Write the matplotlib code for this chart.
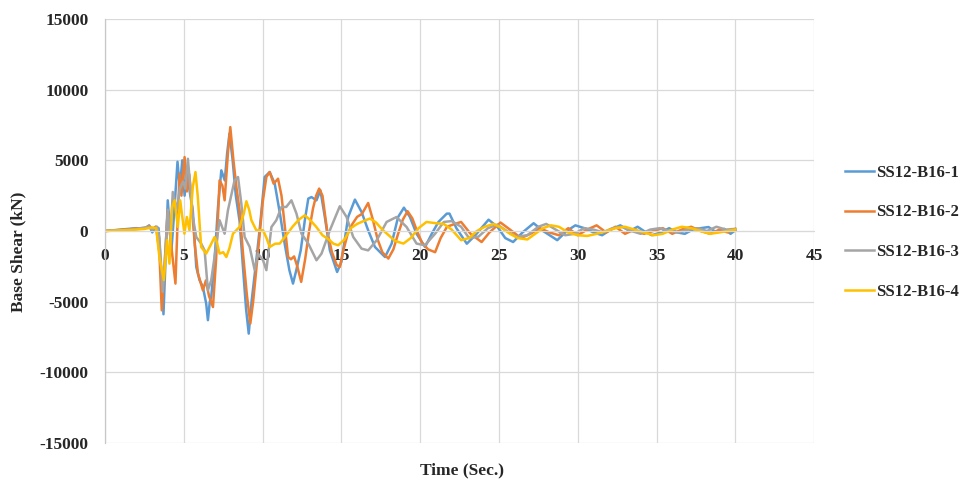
import matplotlib
matplotlib.use("Agg")
import matplotlib.pyplot as plt

# ---------------- data ----------------
t1 = [0, 0.5, 1.0, 1.5, 2.0, 2.5, 2.8, 3.0, 3.2, 3.4, 3.55, 3.71, 3.85, 3.98, 4.1, 4.2, 4.4, 4.6, 4.75, 4.9,
      5.05, 5.2, 5.4, 5.57, 5.79, 6.0, 6.21, 6.42, 6.53, 6.65, 6.74, 6.95, 7.17, 7.38, 7.6, 7.75, 7.9, 8.1,
      8.3, 8.54, 8.75, 8.95, 9.12, 9.3, 9.6, 9.85, 10.13, 10.45, 10.77, 11.1, 11.4, 11.7, 11.93, 12.14, 12.42,
      12.68, 12.9, 13.1, 13.42, 13.67, 13.95, 14.27, 14.73, 15.0, 15.43, 15.86, 16.28, 16.7, 17.13, 17.55,
      17.77, 18.19, 18.6, 18.97, 19.35, 19.77, 20.31, 20.74, 21.16, 21.69, 21.86, 22.3, 22.96, 23.5, 24.34,
      24.9, 25.4, 25.9, 26.5, 27.2, 27.8, 28.7, 29.3, 29.85, 30.5, 31.0, 31.55, 32.1, 32.7, 33.3, 33.8, 34.2,
      34.7, 35.3, 35.8, 36.3, 36.8, 37.3, 37.8, 38.3, 38.8, 39.3, 39.7, 40.0]
v1 = [0, 50, 100, 150, 200, 150, 400, -100, 300, 200, -2600, -5890, -1800, 2170, 500, -1600, 1500, 4900, 3000, 5000,
      2500, 4200, 2600, 1460, -2540, -3480, -3950, -5130, -6310, -5000, -4660, -2070, 1700, 4290, 3580, 5500, 6900, 5000,
      2500, 700, -2500, -5500, -7260, -5000, -2080, 500, 3820, 4170, 3350, 1230, -890, -2770, -3720, -2770, -1370,
      750, 2290, 2400, 2170, 2880, 990, -1370, -2900, -2190, 990, 2220, 1350, 50, -1130, -1600,
      -1840, -890, 990, 1650, 990, -190, -1130, -190, 640, 1230, 1230, 200, -900, -300, 800,
      300, -500, -780, -100, 550, 0, -650, 0, 400, 170, -100, -300, 100, 400, 0, 300, 0,
      -300, -100, 200, -100, -200, 100, 200, 280, -100, 150, -200, 50]

t2 = [0, 0.5, 1.0, 1.5, 2.0, 2.5, 2.8, 3.0, 3.24, 3.45, 3.6, 3.75, 3.98, 4.15, 4.3, 4.47, 4.6, 4.73, 4.85, 5.05,
      5.2, 5.35, 5.5, 5.7, 5.9, 6.21, 6.4, 6.6, 6.85, 7.05, 7.27, 7.45, 7.59, 7.8, 7.95, 8.15, 8.35, 8.54, 8.75,
      9.0, 9.22, 9.4, 9.8, 10.0, 10.24, 10.45, 10.7, 10.98, 11.2, 11.62, 11.8, 12.0, 12.2, 12.45, 12.7, 12.95,
      13.2, 13.4, 13.59, 13.8, 14.1, 14.4, 14.7, 14.9, 15.1, 15.4, 15.7, 16.0, 16.3, 16.7, 17.0, 17.3, 17.6,
      17.98, 18.3, 18.6, 18.9, 19.2, 19.5, 19.8, 20.1, 20.5, 20.95, 21.3, 21.7, 22.2, 22.6, 23.2, 23.9, 24.4,
      25.1, 25.7, 26.4, 27.0, 27.6, 28.2, 28.8, 29.4, 30.0, 30.6, 31.2, 31.8, 32.4, 33.0, 33.6, 34.2, 34.8,
      35.4, 36.0, 36.6, 37.2, 37.8, 38.4, 39.0, 39.5, 40.0]
v2 = [0, 30, 80, 120, 180, 200, 350, 150, 300, -1500, -5610, -3000, 1460, -500, -2000, -3720, 500, 4060, 2500, 5230,
      2800, 4000, 2000, -1000, -3000, -4200, -3500, -4600, -5380, -2000, 3580, 3200, 2170, 5500, 7350, 5000, 3000, 1460, -1500,
      -4500, -6550, -5000, -430, 2000, 3820, 4170, 3350, 3700, 2500, -1840, -2000, -1800, -2500, -3600, -2000, 0,
      1600, 2500, 3000, 2500, 0, -1500, -2400, -2540, -1500, -200, 500, 1000, 1200, 1980, 800, -600, -1500,
      -1950, -1300, -200, 800, 1400, 900, 0, -800, -1300, -1500, -500, 300, 500, 640, -200, -780, -100,
      600, 100, -500, -200, 200, -100, -300, 200, -300, 100, 400, -100, 300, -200, 100, -200, 0,
      200, -200, 100, 300, 0, -200, 100, -100, 150]

t3 = [0, 0.5, 1.0, 1.5, 2.0, 2.5, 2.8, 3.0, 3.3, 3.45, 3.66, 3.8, 3.98, 4.15, 4.3, 4.45, 4.55, 4.75, 4.95, 5.1,
      5.26, 5.57, 5.79, 6.1, 6.32, 6.53, 6.74, 6.95, 7.27, 7.59, 7.8, 8.22, 8.44, 8.65, 8.86, 9.18, 9.5, 9.71,
      10.03, 10.24, 10.56, 10.87, 11.2, 11.5, 11.83, 12.15, 12.47, 12.9, 13.42, 13.74, 14.27, 14.9, 15.33,
      15.75, 16.28, 16.7, 17.24, 17.87, 18.5, 19.14, 19.77, 20.3, 20.95, 21.5, 22.0, 22.6, 23.1, 23.7, 24.3,
      24.9, 25.5, 26.1, 26.8, 27.5, 28.0, 28.6, 29.2, 29.8, 30.4, 31.0, 31.6, 32.2, 32.8, 33.4, 34.0, 34.6,
      35.2, 35.8, 36.4, 37.0, 37.6, 38.2, 38.8, 39.4, 40.0]
v3 = [0, 50, 50, 100, 150, 250, 300, 100, 300, -500, -4310, -2000, 1500, -500, 2760, 2000, 1460, 3000, 3500, 3000,
      5110, 990, -420, -890, -1370, -4190, -3480, -1840, 760, -190, 1460, 3580, 3820, 1940, -420, -1130, -2770, -1600,
      -2080, -2770, 280, 760, 1700, 1700, 2170, 1230, -190, -890, -2070, -1600, 50, 1750, 990,
      -420, -1250, -1370, -660, 640, 990, 280, -890, -1010, -190, 640, 700, 300, -500, -400, 200,
      450, 0, -400, -300, 300, 500, 100, -300, -200, 200, 100, -100, 200, 300, 0, -200, 100,
      200, 0, -100, 100, 200, 0, 300, 100, 150]

t4 = [0, 0.5, 1.0, 1.5, 2.0, 2.5, 3.0, 3.25, 3.45, 3.73, 3.94, 4.09, 4.26, 4.41, 4.62, 4.77, 5.04, 5.19, 5.36,
      5.57, 5.74, 5.89, 6.1, 6.42, 6.7, 6.95, 7.1, 7.27, 7.5, 7.7, 7.9, 8.12, 8.54, 8.8, 8.97, 9.15, 9.29, 9.6,
      10.03, 10.25, 10.45, 10.8, 11.09, 11.5, 11.9, 12.3, 12.68, 13.0, 13.4, 13.8, 14.2, 14.5, 14.8, 15.2, 15.6,
      16.0, 16.4, 16.81, 17.2, 17.6, 18.0, 18.4, 18.94, 19.4, 19.9, 20.4, 21.0, 21.5, 22.0, 22.6, 23.1, 23.6,
      24.1, 24.65, 25.2, 25.7, 26.2, 26.8, 27.3, 27.8, 28.3, 28.8, 29.4, 30.0, 30.6, 31.2, 31.8, 32.4, 33.0,
      33.6, 34.2, 34.8, 35.4, 36.0, 36.6, 37.2, 37.8, 38.4, 39.0, 39.5, 40.0]
v4 = [0, 20, 50, 60, 100, 150, 250, 200, -1840, -3480, -650, -2310, 1700, 2170, 290, 2170, -190, 990, 50,
      3110, 4170, 2400, -1130, -1600, -1000, -430, -800, -1600, -1500, -1840, -1200, -190, 290, 1200, 2100, 1500, 760, 50,
      50, -500, -1130, -900, -890, -300, 300, 800, 1110, 800, 300, -300, -600, -900, -1010, -600, 200,
      500, 700, 880, 600, 100, -300, -700, -890, -500, 200, 640, 550, 500, 100, -650, -500, 0,
      300, 500, 200, -200, -500, -600, -200, 200, 400, 300, -100, -300, -350, -200, 0, 200, 300,
      100, -100, -300, -200, 100, 300, 200, 0, -200, -100, 0, 100]

names = ["SS12-B16-1", "SS12-B16-2", "SS12-B16-3", "SS12-B16-4"]
x_ticks = [0, 5, 10, 15, 20, 25, 30, 35, 40, 45]
y_ticks = [-15000, -10000, -5000, 0, 5000, 10000, 15000]

# ---------------- plot ----------------
font = ["Liberation Serif", "DejaVu Serif"]
plt.rcParams["font.family"] = font
plt.rcParams["font.weight"] = "bold"

fig = plt.figure(figsize=(9.6, 4.83), dpi=100)
ax = fig.add_axes([0.1094, 0.0828, 0.848 - 0.1094, 0.9607 - 0.0828])

colors = ["#5B9BD5", "#ED7D31", "#A5A5A5", "#FFC000"]
series = [(t1, v1), (t2, v2), (t3, v3), (t4, v4)]
for (t, v), c, n in zip(series, colors, names):
    ax.plot(t, v, color=c, lw=1.8, label=n, solid_joinstyle="round")

ax.set_xlim(0, 45)
ax.set_ylim(-15000, 15000)
ax.set_xticks(x_ticks)
ax.set_yticks(y_ticks)
ax.set_xticklabels([str(x) for x in x_ticks])
ax.set_yticklabels([str(y) for y in y_ticks])
ax.grid(True, color="#d9d9d9", lw=0.9)
ax.set_axisbelow(True)

for s in ["top", "right"]:
    ax.spines[s].set_visible(False)
ax.spines["left"].set_color("#c8c8c8")
ax.spines["left"].set_linewidth(0.9)
ax.spines["bottom"].set_position(("data", 0))
ax.spines["bottom"].set_color("#d9d9d9")
ax.tick_params(axis="both", length=0, labelsize=12.5, colors="#262626")
ax.tick_params(axis="x", pad=12)
ax.tick_params(axis="y", pad=12)
for lbl in ax.get_xticklabels() + ax.get_yticklabels():
    lbl.set_fontweight("bold")

fig.text(0.019, 0.478, "Base Shear (kN)", rotation=90, ha="center", va="center",
         fontsize=12.5, fontweight="bold", color="#262626")
fig.text(0.481, 0.027, "Time (Sec.)", ha="center", va="center",
         fontsize=12.5, fontweight="bold", color="#262626")

leg = fig.legend(loc="center left", bbox_to_anchor=(0.873, 0.519), frameon=False,
                 prop={"weight": "bold", "size": 12}, handlelength=1.75, handletextpad=0.1,
                 labelspacing=1.42, borderaxespad=0)
for txt in leg.get_texts():
    txt.set_color("#262626")

fig.savefig("out.png", dpi=100)
